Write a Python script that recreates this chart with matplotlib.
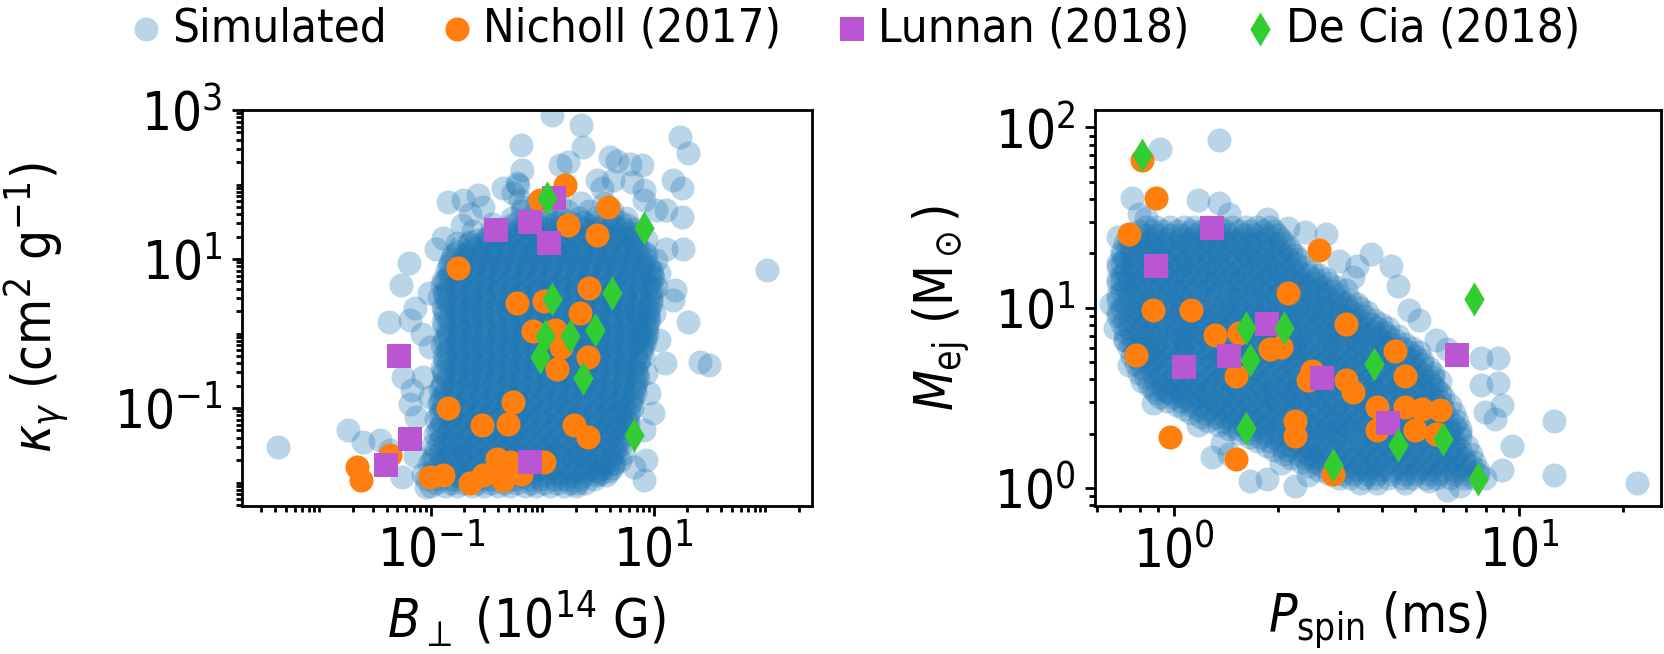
import matplotlib
matplotlib.use("Agg")
import matplotlib.pyplot as plt
import numpy as np
from matplotlib import ticker

# All positions are log10 values.

# ---------------- left panel: log10 B_perp (1e14 G), log10 kappa_gamma ----------------
# dense part of the simulated cloud, one row per kappa level: (log10 kappa, [log10 B, ...])
sim_left_rows = [
    (-2.05, [-1.00, -0.87, -0.77, -0.63, -0.52, -0.40, -0.29, -0.16, -0.06, 0.07, 0.19, 0.30]),
    (-2.00, [-0.95, -0.82, -0.71, -0.58, -0.46, -0.34, -0.23, -0.10, 0.01, 0.13, 0.25, 0.38]),
    (-1.95, [-1.04, -0.93, -0.81, -0.71, -0.58, -0.47, -0.35, -0.25, -0.12, -0.01, 0.11, 0.21, 0.34, 0.46]),
    (-1.90, [-1.00, -0.89, -0.77, -0.66, -0.55, -0.43, -0.32, -0.20, -0.09, 0.03, 0.14, 0.25, 0.37, 0.48, 0.57]),
    (-1.85, [-0.98, -0.86, -0.76, -0.64, -0.53, -0.41, -0.31, -0.18, -0.08, 0.05, 0.15, 0.28, 0.38, 0.50, 0.60]),
    (-1.80, [-0.96, -0.84, -0.73, -0.61, -0.50, -0.38, -0.27, -0.15, -0.04, 0.08, 0.19, 0.31, 0.42, 0.53, 0.62]),
    (-1.75, [-1.02, -0.91, -0.80, -0.68, -0.58, -0.45, -0.35, -0.23, -0.12, -0.01, 0.10, 0.22, 0.32, 0.44, 0.54, 0.63]),
    (-1.70, [-0.99, -0.88, -0.76, -0.65, -0.53, -0.42, -0.30, -0.19, -0.07, 0.04, 0.16, 0.27, 0.39, 0.50, 0.61]),
    (-1.65, [-0.97, -0.85, -0.74, -0.63, -0.51, -0.40, -0.30, -0.17, -0.06, 0.05, 0.17, 0.27, 0.39, 0.51, 0.62]),
    (-1.60, [-0.92, -0.81, -0.69, -0.58, -0.46, -0.35, -0.23, -0.12, 0.00, 0.11, 0.23, 0.34, 0.46, 0.57, 0.66]),
    (-1.55, [-0.95, -0.84, -0.72, -0.61, -0.50, -0.38, -0.27, -0.16, -0.04, 0.07, 0.18, 0.31, 0.41, 0.53, 0.64]),
    (-1.50, [-0.98, -0.87, -0.75, -0.64, -0.52, -0.41, -0.29, -0.18, -0.06, 0.05, 0.17, 0.28, 0.39, 0.50, 0.62, 0.70]),
    (-1.45, [-0.93, -0.81, -0.70, -0.59, -0.47, -0.35, -0.25, -0.13, -0.01, 0.10, 0.22, 0.33, 0.44, 0.56, 0.68]),
    (-1.40, [-0.90, -0.79, -0.67, -0.56, -0.44, -0.33, -0.21, -0.10, 0.02, 0.13, 0.25, 0.36, 0.48, 0.59, 0.70]),
    (-1.35, [-0.96, -0.85, -0.73, -0.62, -0.51, -0.39, -0.28, -0.17, -0.05, 0.06, 0.17, 0.29, 0.40, 0.52, 0.62, 0.72]),
    (-1.30, [-0.94, -0.83, -0.71, -0.60, -0.48, -0.37, -0.25, -0.14, -0.02, 0.09, 0.21, 0.32, 0.44, 0.55, 0.66, 0.75]),
    (-1.25, [-0.92, -0.80, -0.69, -0.57, -0.46, -0.35, -0.23, -0.11, 0.00, 0.11, 0.23, 0.34, 0.46, 0.57, 0.67, 0.76]),
    (-1.20, [-0.90, -0.78, -0.66, -0.55, -0.43, -0.32, -0.20, -0.09, 0.03, 0.14, 0.26, 0.37, 0.49, 0.60, 0.71, 0.77]),
    (-1.15, [-0.95, -0.83, -0.72, -0.61, -0.49, -0.38, -0.27, -0.15, -0.04, 0.08, 0.19, 0.31, 0.42, 0.53, 0.64, 0.75]),
    (-1.10, [-0.93, -0.82, -0.70, -0.59, -0.47, -0.36, -0.24, -0.13, -0.01, 0.10, 0.22, 0.33, 0.45, 0.56, 0.67, 0.77]),
    (-1.05, [-0.91, -0.80, -0.68, -0.56, -0.45, -0.34, -0.22, -0.11, 0.01, 0.12, 0.24, 0.35, 0.47, 0.58, 0.69, 0.78]),
    (-1.00, [-0.89, -0.77, -0.65, -0.54, -0.42, -0.31, -0.19, -0.08, 0.04, 0.15, 0.27, 0.38, 0.50, 0.61, 0.72, 0.80]),
    (-0.95, [-0.93, -0.82, -0.70, -0.59, -0.48, -0.36, -0.25, -0.13, -0.02, 0.09, 0.21, 0.32, 0.44, 0.55, 0.67, 0.79]),
    (-0.90, [-0.92, -0.80, -0.69, -0.57, -0.46, -0.34, -0.23, -0.11, 0.00, 0.12, 0.23, 0.35, 0.46, 0.58, 0.69, 0.80]),
    (-0.85, [-0.90, -0.78, -0.67, -0.55, -0.44, -0.32, -0.21, -0.09, 0.02, 0.14, 0.25, 0.37, 0.48, 0.60, 0.71, 0.80]),
    (-0.80, [-0.87, -0.75, -0.64, -0.52, -0.41, -0.29, -0.18, -0.06, 0.05, 0.17, 0.28, 0.40, 0.51, 0.63, 0.74, 0.83]),
    (-0.75, [-0.92, -0.81, -0.69, -0.58, -0.46, -0.35, -0.23, -0.12, 0.00, 0.11, 0.23, 0.34, 0.46, 0.57, 0.69, 0.82]),
    (-0.70, [-0.90, -0.79, -0.67, -0.56, -0.44, -0.33, -0.21, -0.10, 0.02, 0.13, 0.25, 0.36, 0.48, 0.59, 0.71, 0.83]),
    (-0.65, [-0.89, -0.77, -0.66, -0.54, -0.43, -0.31, -0.20, -0.08, 0.03, 0.15, 0.26, 0.38, 0.49, 0.61, 0.72, 0.84]),
    (-0.60, [-0.86, -0.74, -0.63, -0.51, -0.40, -0.28, -0.17, -0.05, 0.06, 0.18, 0.29, 0.41, 0.52, 0.64, 0.75, 0.86]),
    (-0.55, [-0.88, -0.76, -0.65, -0.53, -0.42, -0.30, -0.19, -0.07, 0.04, 0.16, 0.27, 0.39, 0.50, 0.62, 0.73, 0.85]),
    (-0.50, [-0.89, -0.77, -0.66, -0.54, -0.43, -0.31, -0.20, -0.08, 0.03, 0.15, 0.26, 0.38, 0.49, 0.61, 0.72, 0.84]),
    (-0.45, [-0.90, -0.79, -0.67, -0.56, -0.44, -0.33, -0.21, -0.10, 0.02, 0.13, 0.25, 0.36, 0.48, 0.59, 0.71, 0.82]),
    (-0.40, [-0.85, -0.73, -0.62, -0.50, -0.39, -0.27, -0.16, -0.04, 0.07, 0.19, 0.30, 0.42, 0.53, 0.65, 0.76, 0.86]),
    (-0.35, [-0.87, -0.75, -0.64, -0.52, -0.41, -0.29, -0.18, -0.06, 0.05, 0.17, 0.28, 0.40, 0.51, 0.63, 0.74, 0.87]),
    (-0.30, [-0.88, -0.77, -0.65, -0.54, -0.42, -0.31, -0.19, -0.08, 0.04, 0.15, 0.27, 0.38, 0.50, 0.61, 0.73, 0.84, 0.90]),
    (-0.25, [-0.86, -0.75, -0.63, -0.52, -0.40, -0.29, -0.17, -0.06, 0.06, 0.17, 0.29, 0.40, 0.52, 0.63, 0.75, 0.88]),
    (-0.20, [-0.84, -0.72, -0.61, -0.49, -0.38, -0.26, -0.15, -0.03, 0.08, 0.20, 0.31, 0.43, 0.54, 0.66, 0.77, 0.88]),
    (-0.15, [-0.90, -0.78, -0.67, -0.55, -0.44, -0.32, -0.21, -0.09, 0.02, 0.14, 0.25, 0.37, 0.48, 0.60, 0.71, 0.83, 0.90]),
    (-0.10, [-0.88, -0.76, -0.65, -0.53, -0.42, -0.30, -0.19, -0.07, 0.04, 0.16, 0.27, 0.39, 0.50, 0.62, 0.73, 0.85, 0.92]),
    (-0.05, [-0.87, -0.76, -0.64, -0.53, -0.41, -0.30, -0.18, -0.07, 0.05, 0.16, 0.28, 0.39, 0.51, 0.62, 0.74, 0.85, 0.92]),
    (0.00, [-0.85, -0.73, -0.62, -0.50, -0.39, -0.27, -0.16, -0.04, 0.07, 0.19, 0.30, 0.42, 0.53, 0.65, 0.76, 0.88, 0.94]),
    (0.05, [-0.86, -0.74, -0.63, -0.51, -0.40, -0.28, -0.17, -0.05, 0.06, 0.18, 0.29, 0.41, 0.52, 0.64, 0.75, 0.87, 0.93]),
    (0.10, [-0.88, -0.76, -0.65, -0.53, -0.42, -0.30, -0.19, -0.07, 0.04, 0.16, 0.27, 0.39, 0.50, 0.62, 0.73, 0.85, 0.94]),
    (0.15, [-0.89, -0.77, -0.66, -0.54, -0.43, -0.31, -0.20, -0.08, 0.03, 0.15, 0.26, 0.38, 0.49, 0.61, 0.72, 0.84, 0.95]),
    (0.20, [-0.84, -0.72, -0.61, -0.49, -0.38, -0.26, -0.15, -0.03, 0.08, 0.20, 0.31, 0.43, 0.54, 0.66, 0.77, 0.89, 0.96]),
    (0.25, [-0.87, -0.76, -0.64, -0.53, -0.41, -0.30, -0.18, -0.07, 0.05, 0.16, 0.28, 0.39, 0.51, 0.62, 0.74, 0.85, 0.95]),
    (0.30, [-0.88, -0.77, -0.65, -0.54, -0.42, -0.31, -0.19, -0.08, 0.04, 0.15, 0.27, 0.38, 0.50, 0.61, 0.73, 0.84, 0.95]),
    (0.35, [-0.89, -0.78, -0.66, -0.55, -0.43, -0.32, -0.20, -0.09, 0.03, 0.14, 0.26, 0.37, 0.49, 0.60, 0.72, 0.83, 0.96]),
    (0.40, [-0.84, -0.72, -0.61, -0.49, -0.38, -0.26, -0.15, -0.03, 0.08, 0.20, 0.31, 0.43, 0.54, 0.66, 0.77, 0.89, 0.97]),
    (0.45, [-0.86, -0.75, -0.63, -0.52, -0.40, -0.29, -0.17, -0.06, 0.06, 0.17, 0.29, 0.40, 0.52, 0.63, 0.75, 0.86, 0.97]),
    (0.50, [-0.87, -0.75, -0.64, -0.52, -0.41, -0.29, -0.18, -0.06, 0.05, 0.17, 0.28, 0.40, 0.51, 0.63, 0.74, 0.86, 0.97]),
    (0.55, [-0.88, -0.76, -0.65, -0.53, -0.42, -0.30, -0.19, -0.07, 0.04, 0.16, 0.27, 0.39, 0.50, 0.62, 0.73, 0.85, 0.97]),
    (0.60, [-0.85, -0.73, -0.62, -0.50, -0.39, -0.27, -0.16, -0.04, 0.07, 0.19, 0.30, 0.42, 0.53, 0.65, 0.76, 0.88, 0.98]),
    (0.65, [-0.90, -0.78, -0.67, -0.55, -0.44, -0.32, -0.21, -0.09, 0.02, 0.14, 0.25, 0.37, 0.48, 0.60, 0.71, 0.83, 0.95]),
    (0.70, [-0.87, -0.76, -0.64, -0.53, -0.41, -0.30, -0.18, -0.07, 0.05, 0.16, 0.28, 0.39, 0.51, 0.62, 0.74, 0.85, 0.97]),
    (0.75, [-0.85, -0.73, -0.62, -0.50, -0.39, -0.27, -0.16, -0.04, 0.07, 0.19, 0.30, 0.42, 0.53, 0.65, 0.76, 0.88, 0.99]),
    (0.80, [-0.83, -0.71, -0.60, -0.48, -0.37, -0.25, -0.14, -0.02, 0.09, 0.21, 0.32, 0.44, 0.55, 0.67, 0.78, 0.90, 0.98]),
    (0.85, [-0.86, -0.75, -0.63, -0.52, -0.40, -0.29, -0.17, -0.06, 0.06, 0.17, 0.29, 0.40, 0.52, 0.63, 0.75, 0.86, 0.97]),
    (0.90, [-0.84, -0.73, -0.61, -0.50, -0.38, -0.27, -0.15, -0.04, 0.08, 0.19, 0.31, 0.42, 0.54, 0.65, 0.77, 0.88, 0.96]),
    (0.95, [-0.83, -0.71, -0.60, -0.48, -0.37, -0.25, -0.14, -0.02, 0.09, 0.21, 0.32, 0.44, 0.55, 0.67, 0.78, 0.90]),
    (1.00, [-0.81, -0.69, -0.58, -0.46, -0.35, -0.23, -0.12, 0.00, 0.11, 0.23, 0.34, 0.46, 0.57, 0.69, 0.80, 0.92]),
    (1.05, [-0.80, -0.69, -0.57, -0.46, -0.34, -0.23, -0.11, 0.00, 0.12, 0.23, 0.35, 0.46, 0.58, 0.69, 0.81, 0.93]),
    (1.10, [-0.77, -0.66, -0.54, -0.43, -0.31, -0.20, -0.08, 0.03, 0.15, 0.26, 0.38, 0.49, 0.61, 0.72, 0.84, 0.91]),
    (1.15, [-0.75, -0.63, -0.52, -0.40, -0.29, -0.17, -0.06, 0.06, 0.17, 0.29, 0.40, 0.52, 0.63, 0.75, 0.86]),
    (1.20, [-0.66, -0.55, -0.43, -0.32, -0.20, -0.09, 0.03, 0.14, 0.26, 0.37, 0.49, 0.60, 0.72, 0.83]),
    (1.25, [-0.58, -0.47, -0.35, -0.24, -0.12, -0.01, 0.11, 0.22, 0.34, 0.45, 0.57, 0.68, 0.80]),
    (1.30, [-0.49, -0.38, -0.26, -0.15, -0.03, 0.08, 0.20, 0.31, 0.43, 0.54, 0.66, 0.77, 0.84]),
    (1.35, [-0.39, -0.27, -0.16, -0.04, 0.07, 0.19, 0.30, 0.42, 0.53, 0.65, 0.76, 0.85]),
    (1.40, [-0.32, -0.20, -0.09, 0.03, 0.14, 0.26, 0.37, 0.49, 0.60, 0.72, 0.82]),
    (1.45, [-0.28, -0.16, -0.05, 0.07, 0.18, 0.30, 0.41, 0.53, 0.64, 0.76]),
    (1.50, [-0.22, -0.10, 0.01, 0.13, 0.24, 0.36, 0.47, 0.59, 0.70]),
    (1.55, [-0.27, -0.12, 0.03, 0.18, 0.33, 0.48, 0.63, 0.75]),
    (1.65, [-0.18, 0.02, 0.22, 0.42, 0.62]),
    (1.75, [-0.05, 0.15, 0.35, 0.55]),
]
# sparse simulated points round the cloud: (log10 B, log10 kappa)
sim_left_extra = [
    (-0.19, 2.53), (-0.18, 2.19), (0.09, 2.93), (0.35, 2.80), (0.36, 2.51), (0.23, 2.30),
    (0.16, 2.26), (0.61, 2.37), (0.67, 2.31), (0.89, 2.26), (1.23, 2.64), (1.31, 2.42),
    (1.17, 2.06), (1.25, 1.95), (1.11, 1.66), (1.25, 1.57), (0.91, 1.93), (0.80, 2.04),
    (0.63, 2.06), (0.49, 2.06), (0.53, 1.95), (-0.22, 1.99), (-0.26, 1.89),
    (-0.85, 1.77), (-0.71, 1.79), (-0.58, 1.86), (-0.53, 1.70), (-0.65, 1.61), (-0.35, 1.95),
    (-0.23, 2.02), (-0.20, 1.79), (-0.17, 1.70), (-0.89, 1.28), (-0.95, 1.14), (-0.77, 1.21),
    (-0.65, 1.23), (-0.62, 1.37), (-0.49, 1.28), (-0.45, 1.47), (-0.72, 1.45),
    (-1.20, 0.94), (-1.27, 0.65), (-1.14, 0.34), (-1.38, 0.16), (-1.19, 0.18), (-1.08, 0.00),
    (-1.01, -0.18), (-0.93, 0.49), (-1.02, 0.54), (-0.89, 0.72),
    (-1.25, -0.58), (-1.17, -0.76), (-1.07, -0.58), (-1.19, -0.94), (-1.01, -0.85), (-1.13, -1.12),
    (-1.74, -1.30), (-1.61, -1.45), (-1.46, -1.43), (-1.37, -1.56), (-2.37, -1.52),
    (-1.26, -1.92), (-1.14, -1.65), (-1.07, -1.88), (-1.04, -2.06),
    (0.31, -2.01), (0.52, -1.88), (0.64, -1.74), (0.73, -1.61), (0.82, -1.79), (0.91, -1.97),
    (0.93, -1.70),
    (2.01, 0.85), (1.31, 0.16), (1.41, -0.38), (1.49, -0.42), (1.19, 0.58), (1.11, 1.14),
    (1.26, 1.14), (1.17, 0.45), (1.10, -0.40), (0.93, -0.53), (0.96, -0.80), (0.99, -1.07),
    (0.91, -1.30), (0.70, -1.70), (0.49, -1.83), (1.05, -0.09), (1.00, 0.27), (1.02, 0.63),
    (1.02, 0.99), (1.05, 0.81), (0.93, 1.26), (1.02, 1.66), (0.91, 1.79), (0.79, 2.28),
]
nicholl_left = [
    (-0.76, 0.88), (-0.23, 0.41), (0.01, 0.43), (-0.08, 0.03), (-0.85, -1.00), (-0.26, -0.92),
    (-0.54, -1.23), (-0.31, -1.21), (-0.41, -1.68), (-1.66, -1.79), (-1.63, -1.97), (-1.37, -1.63),
    (-1.01, -1.92), (-0.89, -1.90), (-0.65, -2.01), (-0.53, -1.90), (-0.35, -1.97), (-0.19, -1.88),
    (0.20, 1.99), (-0.02, 1.79), (0.59, 1.70), (0.23, 1.46), (0.49, 1.32), (0.42, 0.61),
    (0.34, 0.27), (0.11, 0.05), (0.17, -0.18), (0.41, -0.31), (0.13, -0.47), (0.28, -1.23),
    (0.41, -1.39), (0.01, -1.72), (-0.29, -1.72),
]
lunnan_left = [
    (-0.42, 1.39), (-0.11, 1.50), (0.06, 1.22), (0.10, 1.82),
    (-1.29, -0.30), (-1.19, -1.41), (-1.40, -1.77), (-0.11, -1.72),
]
decia_left = [
    (0.04, 1.82), (0.91, 1.42), (0.62, 0.55), (0.09, 0.46), (0.47, 0.05),
    (0.25, -0.04), (0.02, -0.04), (-0.02, -0.31), (0.36, -0.60), (0.82, -1.36),
]

# ---------------- right panel: log10 P_spin (ms), log10 M_ej (Msun) ----------------
sim_right_rows = [
    (1.450, [-0.08, -0.05, -0.01, 0.03, 0.06, 0.10, 0.13, 0.17, 0.21, 0.24, 0.28]),
    (1.428, [-0.10, -0.06, -0.03, 0.01, 0.05, 0.08, 0.12, 0.15, 0.19, 0.22, 0.26, 0.29]),
    (1.405, [-0.12, -0.08, -0.05, -0.01, 0.02, 0.06, 0.09, 0.13, 0.16, 0.20, 0.23, 0.27, 0.30]),
    (1.383, [-0.13, -0.09, -0.06, -0.02, 0.02, 0.05, 0.09, 0.12, 0.16, 0.19, 0.23, 0.27, 0.31]),
    (1.360, [-0.14, -0.10, -0.07, -0.03, 0.00, 0.04, 0.08, 0.11, 0.15, 0.18, 0.22, 0.25, 0.29, 0.32]),
    (1.338, [-0.13, -0.10, -0.06, -0.03, 0.01, 0.05, 0.08, 0.12, 0.15, 0.19, 0.22, 0.26, 0.29, 0.33]),
    (1.315, [-0.15, -0.12, -0.08, -0.05, -0.01, 0.02, 0.06, 0.09, 0.13, 0.16, 0.20, 0.23, 0.27, 0.31, 0.34]),
    (1.293, [-0.15, -0.12, -0.08, -0.04, -0.01, 0.03, 0.06, 0.10, 0.13, 0.17, 0.21, 0.24, 0.28, 0.31, 0.35]),
    (1.270, [-0.14, -0.10, -0.06, -0.03, 0.01, 0.04, 0.08, 0.11, 0.15, 0.19, 0.22, 0.26, 0.29, 0.33, 0.36]),
    (1.248, [-0.16, -0.12, -0.08, -0.05, -0.01, 0.02, 0.06, 0.10, 0.13, 0.17, 0.20, 0.24, 0.27, 0.31, 0.35]),
    (1.225, [-0.16, -0.12, -0.09, -0.05, -0.02, 0.02, 0.05, 0.09, 0.12, 0.16, 0.20, 0.23, 0.27, 0.30, 0.34, 0.38]),
    (1.203, [-0.14, -0.10, -0.07, -0.03, 0.00, 0.04, 0.07, 0.11, 0.15, 0.18, 0.22, 0.25, 0.29, 0.32, 0.36, 0.40]),
    (1.180, [-0.15, -0.11, -0.08, -0.04, 0.00, 0.03, 0.07, 0.10, 0.14, 0.17, 0.21, 0.25, 0.28, 0.32, 0.35, 0.39, 0.42]),
    (1.158, [-0.16, -0.13, -0.09, -0.06, -0.02, 0.02, 0.05, 0.09, 0.12, 0.16, 0.19, 0.23, 0.27, 0.30, 0.34, 0.37, 0.41, 0.44]),
    (1.135, [-0.16, -0.13, -0.09, -0.06, -0.02, 0.01, 0.05, 0.09, 0.12, 0.16, 0.19, 0.23, 0.26, 0.30, 0.34, 0.37, 0.41, 0.45]),
    (1.113, [-0.14, -0.11, -0.07, -0.04, 0.00, 0.03, 0.07, 0.11, 0.14, 0.18, 0.21, 0.25, 0.28, 0.32, 0.36, 0.39, 0.43, 0.47]),
    (1.090, [-0.15, -0.11, -0.07, -0.04, 0.00, 0.03, 0.07, 0.10, 0.14, 0.18, 0.21, 0.25, 0.28, 0.32, 0.35, 0.39, 0.42, 0.46]),
    (1.068, [-0.16, -0.13, -0.09, -0.06, -0.02, 0.01, 0.05, 0.08, 0.12, 0.16, 0.19, 0.23, 0.26, 0.30, 0.33, 0.37, 0.41, 0.44, 0.48]),
    (1.045, [-0.16, -0.12, -0.09, -0.05, -0.02, 0.02, 0.05, 0.09, 0.12, 0.16, 0.19, 0.23, 0.27, 0.30, 0.34, 0.37, 0.41, 0.44, 0.48, 0.51]),
    (1.023, [-0.14, -0.10, -0.07, -0.03, 0.00, 0.04, 0.07, 0.11, 0.15, 0.18, 0.22, 0.25, 0.29, 0.32, 0.36, 0.40, 0.43, 0.47, 0.50, 0.53]),
    (1.000, [-0.15, -0.11, -0.07, -0.04, 0.00, 0.03, 0.07, 0.11, 0.14, 0.18, 0.21, 0.25, 0.28, 0.32, 0.36, 0.39, 0.43, 0.46, 0.50, 0.54]),
    (0.978, [-0.16, -0.12, -0.09, -0.05, -0.02, 0.02, 0.06, 0.09, 0.13, 0.16, 0.20, 0.23, 0.27, 0.31, 0.34, 0.38, 0.41, 0.45, 0.48, 0.52, 0.56]),
    (0.955, [-0.16, -0.13, -0.09, -0.06, -0.02, 0.01, 0.05, 0.08, 0.12, 0.16, 0.19, 0.23, 0.26, 0.30, 0.33, 0.37, 0.41, 0.44, 0.48, 0.51, 0.55]),
    (0.933, [-0.14, -0.10, -0.07, -0.03, 0.01, 0.04, 0.08, 0.11, 0.15, 0.18, 0.22, 0.26, 0.29, 0.33, 0.36, 0.40, 0.43, 0.47, 0.51, 0.54, 0.58]),
    (0.910, [-0.15, -0.11, -0.08, -0.04, 0.00, 0.03, 0.07, 0.10, 0.14, 0.17, 0.21, 0.25, 0.28, 0.32, 0.35, 0.39, 0.42, 0.46, 0.50, 0.53, 0.57, 0.60]),
    (0.888, [-0.13, -0.09, -0.05, -0.02, 0.02, 0.05, 0.09, 0.13, 0.16, 0.20, 0.23, 0.27, 0.30, 0.34, 0.38, 0.41, 0.45, 0.48, 0.52, 0.55, 0.59, 0.62]),
    (0.865, [-0.14, -0.10, -0.07, -0.03, 0.01, 0.04, 0.08, 0.11, 0.15, 0.19, 0.22, 0.26, 0.29, 0.33, 0.36, 0.40, 0.44, 0.47, 0.51, 0.54, 0.58, 0.61]),
    (0.843, [-0.12, -0.09, -0.05, -0.02, 0.02, 0.05, 0.09, 0.12, 0.16, 0.20, 0.23, 0.27, 0.30, 0.34, 0.37, 0.41, 0.45, 0.48, 0.52, 0.55, 0.59, 0.62, 0.65]),
    (0.820, [-0.14, -0.11, -0.07, -0.04, 0.00, 0.03, 0.07, 0.10, 0.14, 0.18, 0.21, 0.25, 0.28, 0.32, 0.35, 0.39, 0.43, 0.46, 0.50, 0.53, 0.57, 0.60, 0.64]),
    (0.798, [-0.12, -0.08, -0.05, -0.01, 0.03, 0.06, 0.10, 0.13, 0.17, 0.20, 0.24, 0.28, 0.31, 0.35, 0.38, 0.42, 0.45, 0.49, 0.53, 0.56, 0.60, 0.63, 0.67]),
    (0.775, [-0.13, -0.09, -0.06, -0.02, 0.02, 0.05, 0.09, 0.12, 0.16, 0.19, 0.23, 0.27, 0.30, 0.34, 0.37, 0.41, 0.44, 0.48, 0.52, 0.55, 0.59, 0.62, 0.66, 0.69]),
    (0.753, [-0.11, -0.07, -0.04, 0.00, 0.03, 0.07, 0.11, 0.14, 0.18, 0.21, 0.25, 0.28, 0.32, 0.36, 0.39, 0.43, 0.46, 0.50, 0.53, 0.57, 0.61, 0.64, 0.68, 0.71]),
    (0.730, [-0.12, -0.08, -0.05, -0.01, 0.02, 0.06, 0.10, 0.13, 0.17, 0.20, 0.24, 0.27, 0.31, 0.35, 0.38, 0.42, 0.45, 0.49, 0.52, 0.56, 0.60, 0.63, 0.67, 0.70]),
    (0.708, [-0.10, -0.06, -0.03, 0.01, 0.05, 0.08, 0.12, 0.15, 0.19, 0.22, 0.26, 0.30, 0.33, 0.37, 0.40, 0.44, 0.47, 0.51, 0.55, 0.58, 0.62, 0.65, 0.69, 0.72]),
    (0.685, [-0.11, -0.07, -0.04, 0.00, 0.03, 0.07, 0.11, 0.14, 0.18, 0.21, 0.25, 0.28, 0.32, 0.35, 0.39, 0.43, 0.46, 0.50, 0.53, 0.57, 0.60, 0.64, 0.68, 0.72]),
    (0.663, [-0.09, -0.05, -0.02, 0.02, 0.06, 0.09, 0.13, 0.16, 0.20, 0.23, 0.27, 0.31, 0.34, 0.38, 0.41, 0.45, 0.48, 0.52, 0.56, 0.59, 0.63, 0.66, 0.70, 0.74]),
    (0.640, [-0.10, -0.06, -0.03, 0.01, 0.04, 0.08, 0.12, 0.15, 0.19, 0.22, 0.26, 0.29, 0.33, 0.36, 0.40, 0.44, 0.47, 0.51, 0.54, 0.58, 0.61, 0.65, 0.69, 0.72, 0.75]),
    (0.618, [-0.08, -0.04, 0.00, 0.03, 0.07, 0.10, 0.14, 0.18, 0.21, 0.25, 0.28, 0.32, 0.35, 0.39, 0.43, 0.46, 0.50, 0.53, 0.57, 0.60, 0.64, 0.68, 0.71, 0.75]),
    (0.595, [-0.09, -0.05, -0.01, 0.02, 0.06, 0.09, 0.13, 0.16, 0.20, 0.24, 0.27, 0.31, 0.34, 0.38, 0.41, 0.45, 0.49, 0.52, 0.56, 0.59, 0.63, 0.66, 0.70, 0.74, 0.77]),
    (0.573, [-0.07, -0.03, 0.00, 0.04, 0.07, 0.11, 0.14, 0.18, 0.22, 0.25, 0.29, 0.32, 0.36, 0.40, 0.43, 0.47, 0.50, 0.54, 0.57, 0.61, 0.65, 0.68, 0.72, 0.75]),
    (0.550, [-0.06, -0.03, 0.01, 0.04, 0.08, 0.11, 0.15, 0.19, 0.22, 0.26, 0.29, 0.33, 0.36, 0.40, 0.44, 0.47, 0.51, 0.54, 0.58, 0.61, 0.65, 0.69, 0.72, 0.76]),
    (0.528, [-0.05, -0.01, 0.02, 0.06, 0.09, 0.13, 0.17, 0.20, 0.24, 0.27, 0.31, 0.34, 0.38, 0.41, 0.45, 0.49, 0.52, 0.56, 0.59, 0.63, 0.66, 0.70, 0.74, 0.77]),
    (0.505, [-0.04, 0.00, 0.03, 0.07, 0.10, 0.14, 0.17, 0.21, 0.25, 0.28, 0.32, 0.35, 0.39, 0.42, 0.46, 0.50, 0.53, 0.57, 0.60, 0.64, 0.67, 0.71, 0.75, 0.78]),
    (0.483, [-0.02, 0.02, 0.05, 0.09, 0.12, 0.16, 0.19, 0.23, 0.27, 0.30, 0.34, 0.37, 0.41, 0.44, 0.48, 0.52, 0.55, 0.59, 0.62, 0.66, 0.69, 0.73, 0.77]),
    (0.460, [0.01, 0.05, 0.08, 0.12, 0.15, 0.19, 0.22, 0.26, 0.30, 0.33, 0.37, 0.40, 0.44, 0.47, 0.51, 0.55, 0.58, 0.62, 0.65, 0.69, 0.72, 0.76, 0.80]),
    (0.438, [0.03, 0.07, 0.10, 0.14, 0.17, 0.21, 0.25, 0.28, 0.32, 0.35, 0.39, 0.42, 0.46, 0.50, 0.53, 0.57, 0.60, 0.64, 0.67, 0.71, 0.75, 0.78]),
    (0.415, [0.05, 0.09, 0.12, 0.16, 0.20, 0.23, 0.27, 0.30, 0.34, 0.37, 0.41, 0.45, 0.48, 0.52, 0.55, 0.59, 0.62, 0.66, 0.70, 0.73, 0.77, 0.81]),
    (0.393, [0.08, 0.12, 0.15, 0.19, 0.22, 0.26, 0.29, 0.33, 0.37, 0.40, 0.44, 0.47, 0.51, 0.54, 0.58, 0.62, 0.65, 0.69, 0.72, 0.76, 0.79]),
    (0.370, [0.10, 0.14, 0.17, 0.21, 0.24, 0.28, 0.31, 0.35, 0.39, 0.42, 0.46, 0.49, 0.53, 0.56, 0.60, 0.64, 0.67, 0.71, 0.74, 0.78, 0.82]),
    (0.348, [0.13, 0.17, 0.20, 0.24, 0.27, 0.31, 0.35, 0.38, 0.42, 0.45, 0.49, 0.52, 0.56, 0.60, 0.63, 0.67, 0.70, 0.74, 0.77, 0.81]),
    (0.325, [0.16, 0.19, 0.23, 0.26, 0.30, 0.34, 0.37, 0.41, 0.44, 0.48, 0.51, 0.55, 0.59, 0.62, 0.66, 0.69, 0.73, 0.76, 0.80, 0.83]),
    (0.303, [0.19, 0.22, 0.26, 0.30, 0.33, 0.37, 0.40, 0.44, 0.47, 0.51, 0.55, 0.58, 0.62, 0.65, 0.69, 0.72, 0.76, 0.80, 0.83]),
    (0.280, [0.22, 0.25, 0.29, 0.33, 0.36, 0.40, 0.43, 0.47, 0.50, 0.54, 0.58, 0.61, 0.65, 0.68, 0.72, 0.75, 0.79, 0.83]),
    (0.258, [0.24, 0.28, 0.31, 0.35, 0.39, 0.42, 0.46, 0.49, 0.53, 0.56, 0.60, 0.64, 0.67, 0.71, 0.74, 0.78, 0.81]),
    (0.235, [0.27, 0.31, 0.34, 0.38, 0.41, 0.45, 0.49, 0.52, 0.56, 0.59, 0.63, 0.66, 0.70, 0.74, 0.77, 0.81, 0.85]),
    (0.213, [0.29, 0.33, 0.37, 0.40, 0.44, 0.47, 0.51, 0.55, 0.58, 0.62, 0.65, 0.69, 0.72, 0.76, 0.80, 0.83]),
    (0.190, [0.32, 0.36, 0.39, 0.43, 0.46, 0.50, 0.54, 0.57, 0.61, 0.64, 0.68, 0.71, 0.75, 0.79, 0.82, 0.86]),
    (0.168, [0.34, 0.38, 0.42, 0.45, 0.49, 0.52, 0.56, 0.59, 0.63, 0.67, 0.70, 0.74, 0.77, 0.81, 0.84]),
    (0.145, [0.37, 0.41, 0.44, 0.48, 0.52, 0.55, 0.59, 0.62, 0.66, 0.69, 0.73, 0.77, 0.80, 0.84, 0.87]),
    (0.123, [0.39, 0.43, 0.47, 0.50, 0.54, 0.57, 0.61, 0.65, 0.68, 0.72, 0.75, 0.79, 0.82, 0.86]),
    (0.100, [0.42, 0.46, 0.49, 0.53, 0.56, 0.60, 0.63, 0.67, 0.71, 0.74, 0.78, 0.81, 0.85, 0.88]),
    (0.078, [0.45, 0.49, 0.52, 0.56, 0.59, 0.63, 0.67, 0.70, 0.74, 0.77, 0.81, 0.84, 0.88]),
    (0.055, [0.48, 0.51, 0.55, 0.58, 0.62, 0.66, 0.69, 0.73, 0.76, 0.80, 0.84, 0.87, 0.90]),
]
sim_right_extra = [
    (0.13, 1.93), (-0.04, 1.88), (-0.12, 1.61), (-0.10, 1.52), (-0.08, 1.50), (0.07, 1.60),
    (0.13, 1.58), (0.16, 1.52), (0.27, 1.49), (0.33, 1.44), (0.38, 1.42), (0.44, 1.41),
    (-0.16, 1.39), (-0.15, 1.25), (-0.15, 1.14), (-0.18, 1.02), (-0.17, 0.89), (-0.14, 0.82),
    (-0.13, 0.68), (-0.06, 0.47), (-0.02, 0.53), (0.07, 0.35), (0.11, 0.17), (0.14, 0.25),
    (0.16, 0.19), (0.22, 0.04), (0.27, 0.05), (0.31, 0.14), (0.35, 0.01), (0.40, 0.17),
    (0.39, 0.07), (0.48, 1.26), (0.53, 1.23), (0.50, 1.10), (0.52, 1.17), (0.57, 1.30),
    (0.63, 1.23), (0.65, 1.12), (0.68, 0.99), (0.71, 0.93), (0.76, 0.82), (0.79, 0.77),
    (0.89, 0.72), (0.94, 0.72), (0.89, 0.57), (0.94, 0.58), (0.95, 0.46), (0.93, 0.38),
    (0.90, 0.42), (1.10, 0.37), (0.98, 0.23), (0.95, 0.10), (1.10, 0.07), (1.34, 0.03),
    (0.83, 0.01), (0.79, -0.01), (0.74, 0.04), (0.54, 0.03), (0.59, 0.03), (0.67, 0.03),
]
nicholl_right = [
    (-0.09, 1.82), (-0.05, 1.61), (-0.13, 1.41), (0.42, 1.32), (0.33, 1.08), (-0.06, 0.99),
    (0.05, 0.99), (0.50, 0.91), (0.12, 0.85), (0.19, 0.86), (0.28, 0.77), (0.31, 0.78),
    (-0.11, 0.74), (0.18, 0.62), (0.40, 0.65), (0.39, 0.60), (0.50, 0.60), (0.52, 0.53),
    (0.35, 0.37), (0.35, 0.29), (-0.01, 0.28), (0.18, 0.16), (0.46, 0.08), (0.64, 0.76),
    (0.67, 0.62), (0.59, 0.45), (0.67, 0.45), (0.72, 0.44), (0.77, 0.43), (0.59, 0.32),
    (0.70, 0.32), (0.76, 0.30),
]
lunnan_right = [
    (0.11, 1.44), (-0.05, 1.23), (0.27, 0.91), (0.16, 0.73),
    (0.03, 0.67), (0.43, 0.61), (0.82, 0.74), (0.62, 0.36),
]
decia_right = [
    (-0.09, 1.85), (0.21, 0.89), (0.32, 0.89), (0.22, 0.71), (0.21, 0.33), (0.46, 0.13),
    (0.87, 1.05), (0.58, 0.69), (0.65, 0.24), (0.78, 0.27), (0.88, 0.05),
]

SIM_COLOR = "#1f77b4"
NICHOLL_COLOR = "#ff7f0e"
LUNNAN_COLOR = "mediumorchid"
DECIA_COLOR = "limegreen"
SIZE = 75


def sim_points(rows, extra):
    xs, ys = [], []
    for y, row in rows:
        xs += row
        ys += [y] * len(row)
    for x, y in extra:
        xs.append(x)
        ys.append(y)
    return 10 ** np.array(xs), 10 ** np.array(ys)


def obs_points(pairs):
    arr = np.array(pairs)
    return 10 ** arr[:, 0], 10 ** arr[:, 1]


def draw_panel(ax, rows, extra, nicholl, lunnan, decia):
    sx, sy = sim_points(rows, extra)
    h_sim = ax.scatter(sx, sy, s=SIZE, color=SIM_COLOR, alpha=0.3, linewidths=0,
                       label="Simulated")
    x, y = obs_points(nicholl)
    h_n = ax.scatter(x, y, s=SIZE, color=NICHOLL_COLOR, marker="o", linewidths=0,
                     label="Nicholl (2017)")
    x, y = obs_points(lunnan)
    h_l = ax.scatter(x, y, s=SIZE, color=LUNNAN_COLOR, marker="s", linewidths=0,
                     label="Lunnan (2018)")
    x, y = obs_points(decia)
    h_d = ax.scatter(x, y, s=SIZE, color=DECIA_COLOR, marker="d", linewidths=0,
                     label="De Cia (2018)")
    ax.set_xscale("log")
    ax.set_yscale("log")
    for sp in ax.spines.values():
        sp.set_linewidth(1.0)
    ax.tick_params(which="both", labelsize=19, width=1.0)
    return [h_sim, h_n, h_l, h_d]


def every_minor():
    return ticker.FixedLocator([m * 10.0 ** k for k in range(-4, 4) for m in range(1, 10)])


# narrow lettering as in the reference
plt.rcParams["font.family"] = ["DejaVu Sans"]
plt.rcParams["font.stretch"] = "condensed"
plt.rcParams["mathtext.fontset"] = "custom"
plt.rcParams["mathtext.rm"] = "DejaVu Sans:stretch=condensed"
plt.rcParams["mathtext.sf"] = "DejaVu Sans:stretch=condensed"
plt.rcParams["mathtext.it"] = "DejaVu Sans:italic:stretch=condensed"
plt.rcParams["mathtext.bf"] = "DejaVu Sans:bold:stretch=condensed"

fig = plt.figure(figsize=(8.32, 3.27), dpi=200)
ax1 = fig.add_axes([0.1454, 0.2263, 0.3425, 0.6055])
ax2 = fig.add_axes([0.6580, 0.2263, 0.3401, 0.6055])

handles = draw_panel(ax1, sim_left_rows, sim_left_extra, nicholl_left, lunnan_left, decia_left)
draw_panel(ax2, sim_right_rows, sim_right_extra, nicholl_right, lunnan_right, decia_right)

ax1.set_xlim(2.02e-3, 261)
ax1.set_ylim(4.84e-3, 1.0e3)
ax1.xaxis.set_major_locator(ticker.FixedLocator([1e-3, 1e-1, 1e1, 1e3]))
ax1.yaxis.set_major_locator(ticker.FixedLocator([1e-3, 1e-1, 1e1, 1e3]))
ax1.xaxis.set_minor_locator(every_minor())
ax1.yaxis.set_minor_locator(every_minor())
ax1.xaxis.set_minor_formatter(ticker.NullFormatter())
ax1.yaxis.set_minor_formatter(ticker.NullFormatter())
ax1.set_xlabel(r"$B_\perp$ (10$^{14}$ G)", fontsize=19)
ax1.set_ylabel(r"$\kappa_\gamma$ (cm$^2$ g$^{-1}$)", fontsize=19)
ax1.yaxis.set_label_coords(-0.30, 0.5)

ax2.set_xlim(0.592, 25.7)
ax2.set_ylim(0.794, 125)
ax2.set_xlabel(r"$P_{\rm spin}$ (ms)", fontsize=19)
ax2.set_ylabel(r"$M_{\rm ej}$ (M$_\odot$)", fontsize=19)
ax2.yaxis.set_label_coords(-0.215, 0.5)

fig.legend(handles=handles, loc="upper center", bbox_to_anchor=(0.513, 1.005), ncol=4,
           frameon=False, fontsize=17, handlelength=0.8, handletextpad=0.15,
           columnspacing=1.1, borderaxespad=0.0, borderpad=0.2)

fig.savefig("out.png", dpi=200)
